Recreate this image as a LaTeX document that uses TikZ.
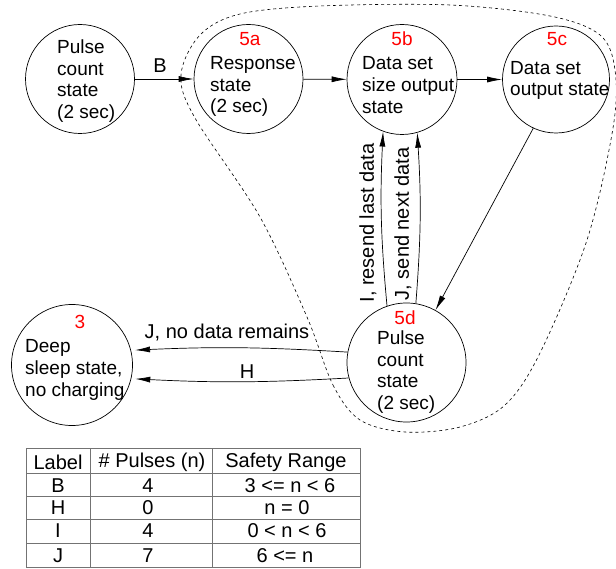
\documentclass[tikz,border=0pt]{standalone}
\usepackage{fontspec}
\setmainfont{Liberation Sans}
\usetikzlibrary{arrows.meta}
\begin{document}
\begin{tikzpicture}[x=1pt,y=-1pt,
  st/.style={draw, circle, line width=0.7pt, inner sep=0pt, minimum size=#1},
  txt/.style={font=\fontsize{19}{21.7}\selectfont, align=left, inner sep=0pt, anchor=west},
  tag/.style={font=\fontsize{19}{21.7}\selectfont, text=red, inner sep=0pt},
  lab/.style={font=\fontsize{20}{22}\selectfont, inner sep=0pt},
  cell/.style={font=\fontsize{20}{22}\selectfont, inner sep=0pt},
  arr/.style={line width=0.7pt, -{Latex[length=15pt,width=6pt]}},
  grid/.style={draw=black!55, line width=0.9pt},
  bound/.style={line width=0.6pt, dash pattern=on 3pt off 3pt},
]
\useasboundingbox (0,0) rectangle (616,569);

% dashed boundary
\draw[bound] plot[smooth cycle, tension=0.55] coordinates {
  (307,317) (333,385) (360,420) (405,432) (460,427) (505,405) (540,353)
  (587,240) (613,128) (615,70) (600,35) (550,16) (450,5) (320,6)
  (240,14) (200,35) (181,75) (195,118) (260,217)};

% states
\node[st=109pt] (p) at (80,79) {};
\node[st=109pt] (a) at (248.5,79) {};
\node[st=110pt] (b) at (402,79.5) {};
\node[st=107pt] (c) at (556,79.5) {};
\node[st=119pt] (d) at (406.5,362.5) {};
\node[st=121pt] (s) at (72,365) {};

% texts
\node[txt] (pt) at (57,81) {Pulse\\count\\state\\(2 sec)};
\node[txt] (at) at (210,86.5) {Response\\state\\(2 sec)};
\node[txt] (bt) at (362,85) {Data set\\size output\\state};
\node[txt] (ct) at (510,80.5) {Data set\\output state};
\node[txt] (dt) at (377,372) {Pulse\\count\\state\\(2 sec)};
\node[txt] (stx) at (25,370) {Deep\\sleep state,\\no charging};

\node[tag] (ta) at (250,39) {5a};
\node[tag] (tb) at (402,39) {5b};
\node[tag] (tc) at (557,39) {5c};
\node[tag] (td) at (405,318) {5d};
\node[tag] (ts) at (80,322) {3};

% connectors
\draw[arr] (p) -- (a);
\draw[arr] (a) -- (b);
\draw[arr] (b) -- (c);
\draw[arr] (c.245) -- (d.61);
\draw[arr] (d.109) to[bend left=4] (b.250);
\draw[arr] (d.81) to[bend right=4] (b.286);
\draw[arr, shorten >=4pt] (d.170) to[bend right=3] (s.14);
\draw[arr, shorten >=4pt] (d.195) to[bend left=3] (s.-13);

% labels
\node[lab] (lB) at (160,66) {B};
\node[lab, rotate=90] (lI) at (368,223) {I, resend last data};
\node[lab, rotate=90] (lJ) at (403,224) {J, send next data};
\node[lab] (lJn) at (227,333) {J, no data remains};
\node[lab] (lH) at (247,372) {H};

% table
\draw[grid] (26,448) rectangle (360,567);
\draw[grid] (90,448) -- (90,567);
\draw[grid] (212,448) -- (212,567);
\draw[grid] (26,473) -- (360,473);
\draw[grid] (26,496) -- (360,496);
\draw[grid] (26,519) -- (360,519);
\draw[grid] (26,543) -- (360,543);

\node[cell] (h1) at (58,462) {Label};
\node[cell] (h2) at (152,462) {\# Pulses (n)};
\node[cell] (h3) at (286,462) {Safety Range};
\node[cell] (r1a) at (58,486) {B};
\node[cell] (r1b) at (148,486) {4};
\node[cell] (r1c) at (290,486) {3 <= n < 6};
\node[cell] (r2a) at (58,508) {H};
\node[cell] (r2b) at (148,508) {0};
\node[cell] (r2c) at (287,508) {n = 0};
\node[cell] (r3a) at (58,531) {I};
\node[cell] (r3b) at (148,531) {4};
\node[cell] (r3c) at (287,531) {0 < n < 6};
\node[cell] (r4a) at (58,556) {J};
\node[cell] (r4b) at (148,556) {7};
\node[cell] (r4c) at (285,556) {6 <= n};
\end{tikzpicture}
\end{document}
